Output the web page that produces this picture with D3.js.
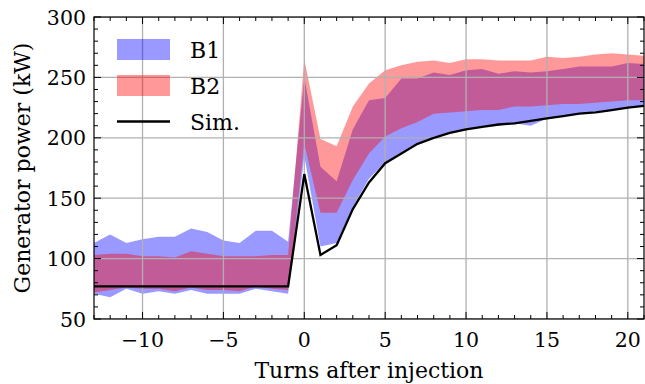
<!DOCTYPE html>
<html>
<head>
<meta charset="utf-8">
<script src="https://cdn.jsdelivr.net/npm/d3@7"></script>
<style>
  body { margin: 0; background: #fff; }
  text { font-family: "DejaVu Serif", "Liberation Serif", serif; }
</style>
</head>
<body>
<div id="chart"></div>
<script>
// turns after injection
var turns = d3.range(-13, 22);

// B1 band (blue): lower / upper edge, kW
var b1Low = [71, 68, 75, 71, 73, 71, 74, 71, 71, 71, 75, 73, 71,
  185, 110, 113, 143, 166, 180, 188, 196, 201, 204, 207, 209, 210, 212, 210, 216, 218, 220, 222, 223, 225, 226];
var b1High = [113, 120, 113, 116, 118, 118, 125, 122, 115, 113, 123, 123, 114,
  250, 176, 164, 207, 231, 233, 249, 249, 254, 252, 256, 257, 253, 255, 254, 255, 257, 259, 259, 259, 262, 261];

// B2 band (red)
var b2Low = [72, 74, 76, 75, 75, 73, 76, 74, 74, 73, 77, 75, 74,
  195, 138, 138, 165, 187, 201, 208, 213, 220, 221, 222, 223, 223, 226, 226, 227, 228, 228, 229, 230, 231, 231];
var b2High = [103, 104, 104, 102, 102, 101, 106, 104, 102, 102, 102, 103, 103,
  265, 199, 193, 226, 245, 256, 260, 263, 264, 262, 265, 265, 264, 264, 264, 267, 266, 267, 269, 270, 269, 268];

// simulation
var sim = [77, 77, 77, 77, 77, 77, 77, 77, 77, 77, 77, 77, 77,
  170, 103, 111, 141, 163, 179, 187, 195, 200, 204, 207, 209, 211, 212, 214, 216, 218, 220, 221, 223, 225, 226.5];

var xTicks = [-10, -5, 0, 5, 10, 15, 20];
var yTicks = [50, 100, 150, 200, 250, 300];

var width = 645, height = 384;
var pLeft = 94, pRight = 644, pTop = 17, pBottom = 319;

var svg = d3.select("#chart").append("svg")
  .attr("width", width)
  .attr("height", height);

var x = d3.scaleLinear().domain([-13, 21]).range([pLeft, pRight]);
var y = d3.scaleLinear().domain([50, 300]).range([pBottom, pTop]);

svg.append("clipPath").attr("id", "clip")
  .append("rect").attr("x", pLeft).attr("y", pTop)
  .attr("width", pRight - pLeft).attr("height", pBottom - pTop);

var plot = svg.append("g").attr("clip-path", "url(#clip)");

// bands (blue first, red on top)
function band(lo, hi, color) {
  var area = d3.area()
    .x(function(d, i) { return x(turns[i]); })
    .y0(function(d, i) { return y(lo[i]); })
    .y1(function(d, i) { return y(hi[i]); });
  plot.append("path")
    .datum(turns)
    .attr("d", area)
    .attr("fill", color)
    .attr("fill-opacity", 0.4);
}
band(b1Low, b1High, "#0000ff");
band(b2Low, b2High, "#ff0000");

// grid sits over the bands, under the line
var grid = plot.append("g").attr("stroke", "#b0b0b0").attr("stroke-width", 1.3);
xTicks.forEach(function(t) {
  grid.append("line").attr("x1", x(t)).attr("x2", x(t)).attr("y1", pTop).attr("y2", pBottom);
});
yTicks.forEach(function(t) {
  grid.append("line").attr("x1", pLeft).attr("x2", pRight).attr("y1", y(t)).attr("y2", y(t));
});

var line = d3.line()
  .x(function(d, i) { return x(turns[i]); })
  .y(function(d, i) { return y(sim[i]); });
plot.append("path")
  .datum(sim)
  .attr("d", line)
  .attr("fill", "none")
  .attr("stroke", "#000")
  .attr("stroke-width", 2.3)
  .attr("stroke-linejoin", "miter");

// inward ticks on all four sides
var ticks = svg.append("g").attr("stroke", "#000").attr("stroke-width", 1);
d3.range(-13, 22).forEach(function(t) {
  var len = (t % 5 === 0) ? 7 : 4;
  ticks.append("line").attr("x1", x(t)).attr("x2", x(t)).attr("y1", pBottom).attr("y2", pBottom - len);
  ticks.append("line").attr("x1", x(t)).attr("x2", x(t)).attr("y1", pTop).attr("y2", pTop + len);
});
d3.range(50, 301, 10).forEach(function(t) {
  var len = (t % 50 === 0) ? 7 : 4;
  ticks.append("line").attr("x1", pLeft).attr("x2", pLeft + len).attr("y1", y(t)).attr("y2", y(t));
  ticks.append("line").attr("x1", pRight).attr("x2", pRight - len).attr("y1", y(t)).attr("y2", y(t));
});

svg.append("rect")
  .attr("x", pLeft).attr("y", pTop)
  .attr("width", pRight - pLeft).attr("height", pBottom - pTop)
  .attr("fill", "none").attr("stroke", "#000").attr("stroke-width", 1.2);

// tick labels
var fmt = d3.format("");
svg.append("g").selectAll("text").data(xTicks).join("text")
  .attr("x", function(d) { return x(d); })
  .attr("y", 347)
  .attr("text-anchor", "middle")
  .attr("font-size", 20.5)
  .text(function(d) { return fmt(d); });

svg.append("g").selectAll("text").data(yTicks).join("text")
  .attr("x", 86)
  .attr("y", function(d) { return y(d) + 7.5; })
  .attr("text-anchor", "end")
  .attr("font-size", 20.5)
  .text(function(d) { return d; });

// axis titles
svg.append("text")
  .attr("x", (pLeft + pRight) / 2)
  .attr("y", 378)
  .attr("text-anchor", "middle")
  .attr("font-size", 22)
  .text("Turns after injection");

svg.append("text")
  .attr("transform", "translate(30," + ((pTop + pBottom) / 2) + ") rotate(-90)")
  .attr("text-anchor", "middle")
  .attr("font-size", 22)
  .text("Generator power (kW)");

// legend
var legendItems = [
  { label: "B1", color: "#0000ff", kind: "patch" },
  { label: "B2", color: "#ff0000", kind: "patch" },
  { label: "Sim.", color: "#000", kind: "line" }
];
var lg = svg.append("g").attr("transform", "translate(117,39)");
legendItems.forEach(function(d, i) {
  var g = lg.append("g").attr("transform", "translate(0," + (i * 36) + ")");
  if (d.kind === "patch") {
    g.append("rect").attr("x", 0).attr("y", 0).attr("width", 53).attr("height", 21)
      .attr("fill", d.color).attr("fill-opacity", 0.4);
  } else {
    g.append("line").attr("x1", 0).attr("x2", 53).attr("y1", 10.5).attr("y2", 10.5)
      .attr("stroke", d.color).attr("stroke-width", 2.3);
  }
  g.append("text").attr("x", 73).attr("y", 18.5).attr("font-size", 22).text(d.label);
});
</script>
</body>
</html>
